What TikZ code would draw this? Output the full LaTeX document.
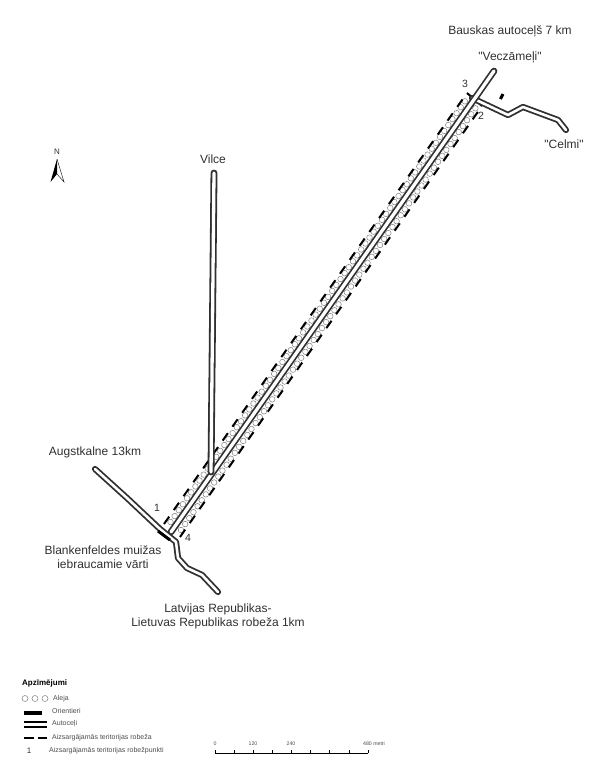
\documentclass[tikz,border=0pt]{standalone}
\usepackage{fontspec}
\setmainfont[Ligatures=TeXOff]{Liberation Sans}
\usetikzlibrary{calc}
\definecolor{ink}{HTML}{303030}
\begin{document}
\begin{tikzpicture}[x=1pt, y=-1pt, every text node part/.style={align=center},
		road/.style={draw=ink, line width=1.8pt, double=white, double distance=2.6pt, line cap=round, line join=round},
		border/.style={draw=black, line width=2pt, dash pattern=on 9pt off 8pt},
		tree/.style={draw=black!50, line width=0.5pt, fill=white},
		str/.style={inner sep=0pt, text=ink, font=\fontsize{12}{14}\selectfont},
		num/.style={inner sep=0pt, text=ink, font=\fontsize{10.5}{12}\selectfont},
		lgd/.style={inner sep=0pt, anchor=west, text=black!70, font=\fontsize{7}{8}\selectfont},
		tick/.style={inner sep=0pt, text=black!70, font=\fontsize{5.2}{6}\selectfont}]
		
		\useasboundingbox (0,0) rectangle (604,782);
		
		% road ends
		\coordinate (mainS) at (171,532);
		\coordinate (mainN) at (494,71);
		\coordinate (dashW1) at (164,524);
		\coordinate (dashW2) at (467,93);
		\coordinate (dashE1) at (180,537);
		\coordinate (dashE2) at (482,106);
		\coordinate (rowW1) at (170.5,522);
		\coordinate (rowW2) at (466.5,99);
		\coordinate (rowE1) at (181,530);
		\coordinate (rowE2) at (477,106);
		
		% alley
		\foreach \t in {0,0.014,...,1.0}{
			\draw[tree] ($(rowW1)!\t!(rowW2)$) circle (2.8pt);
			\draw[tree] ($(rowE1)!\t!(rowE2)$) circle (2.8pt);
		}
		
		% boundary
		\draw[border] (dashW1) -- (dashW2);
		\draw[border] (dashE1) -- (dashE2);
		\draw[border, dash pattern=on 6pt off 2pt] (dashW2) -- (dashE2);
		
		% roads
		\draw[road] (472,98) -- (508,115) -- (523,107) -- (558,120) -- (566,130);
		\draw[road, line width=1.7pt, double distance=3.3pt] (mainS) -- (mainN);
		\draw[road, double distance=3.3pt] (214,173) -- (211,472);
		\draw[road] (95,469) -- (127,498) -- (160,529) -- (176,542) -- (178,558) -- (187,568) -- (202,575) -- (218,592);
		
		% landmarks
		\draw[black, line width=3pt] (158,531) -- (170,540);
		\draw[black, line width=3pt] (500.5,99) -- (503,94);
		
		% north arrow
		\node[inner sep=0pt, text=ink, font=\fontsize{8}{9}\selectfont] (north) at (57,152) {N};
		\fill[black] (57,159) -- (50.5,182) -- (57,174) -- cycle;
		\draw[black, line width=0.4pt] (57,159) -- (64,182) -- (57,174);
		
		% labels
		\node[str] (bauskas) at (510,31) {Bauskas autoceļš 7 km};
		\node[str] (veczameli) at (510,57) {"Veczāmeļi"};
		\node[str] (celmi) at (564,144) {"Celmi"};
		\node[str] (vilce) at (213,159) {Vilce};
		\node[str] (augstkalne) at (95,452) {Augstkalne 13km};
		\node[str] (gate) at (103,557) {Blankenfeldes muižas\\iebraucamie vārti};
		\node[str] (lv) at (218,616) {Latvijas Republikas-\\Lietuvas Republikas robeža 1km};
		\node[num] (p1) at (157,508) {1};
		\node[num] (p2) at (481,116) {2};
		\node[num] (p3) at (465,84) {3};
		\node[num] (p4) at (188,538) {4};
		
		% legend
		\node[inner sep=0pt, anchor=west, font=\fontsize{8}{9}\selectfont\bfseries] (title) at (22,683) {Apzīmējumi};
		\foreach \x in {25,35,45}
			\draw[tree] (\x,698.5) circle (3pt);
		\node[lgd] (aleja) at (53,698.5) {Aleja};
		\fill[black] (24,710.5) rectangle (42,715);
		\node[lgd] (orient) at (52,710.5) {Orientieri};
		\draw[black, line width=1.1pt] (24,722) -- (47,722);
		\draw[black, line width=1.1pt] (24,727) -- (47,727);
		\node[lgd] (autoceli) at (52,724) {Autoceļi};
		\draw[black, line width=2pt] (24,737.5) -- (34,737.5);
		\draw[black, line width=2pt] (38,737.5) -- (47,737.5);
		\node[lgd] (robeza) at (52,737.5) {Aizsargājamās teritorijas robeža};
		\node[inner sep=0pt, text=ink, font=\fontsize{8}{9}\selectfont] (one) at (29,751) {1};
		\node[lgd] (punkti) at (49,751) {Aizsargājamās teritorijas robežpunkti};
		
		% scale bar
		\draw[black, line width=0.6pt] (215,753) -- (368,753);
		\foreach \k in {0,...,8}
			\draw[black, line width=0.6pt] ($(215,753)+(19.125*\k,0)$) -- ++(0,-3.5);
		\node[tick] (s0) at (215,743.5) {0};
		\node[tick] (s120) at (253,743.5) {120};
		\node[tick] (s240) at (291,743.5) {240};
		\node[tick, anchor=west] (s480) at (363,743.5) {480 metri};
		
	\end{tikzpicture}
\end{document}
